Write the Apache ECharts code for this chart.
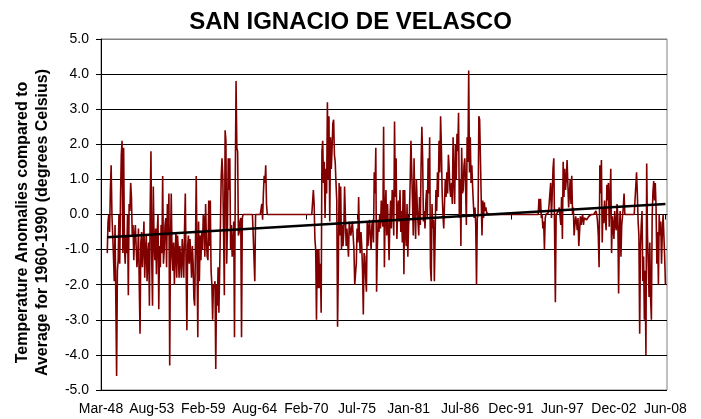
<!DOCTYPE html>
<html>
<head>
<meta charset="utf-8">
<script src="https://cdn.jsdelivr.net/npm/echarts@6/dist/echarts.min.js"></script>
<style>
html,body{margin:0;padding:0;background:#fff;}
#chart{width:701px;height:419px;}
</style>
</head>
<body>
<div id="chart"></div>
<script>
// Monthly temperature anomalies (deg C), first month = Mar-1948
var anom1948_49 = [null,null,null,null,null,null,null,null,-1.1,-0.2,0.0,-0.5,0.7,1.4,0.0,0.0,-1.2,-1.9,-0.3,-2.5,-4.6,-1.6];
var anom1950s = [
  -1.3,0.0,-1.4,0.5,1.7,2.1,-1.1,1.9,-0.9,-1.4,-0.6,-1.1,
  0.0,-2.3,0.3,0.1,0.9,0.5,-0.6,-0.3,-1.3,-0.6,-0.3,-0.9,
  -1.5,-1.2,-0.4,-2.0,-3.4,-0.8,-0.5,-1.5,-0.9,-0.2,-1.8,-1.0,
  -0.6,-1.9,-1.2,-0.8,-2.6,0.2,1.8,-1.3,-2.6,0.8,-0.8,-1.3,
  -0.4,-1.7,-0.5,0.0,-2.7,-0.9,-1.5,-0.3,-1.1,1.1,-1.4,-1.0,
  -0.3,-0.1,-1.5,0.3,-0.6,0.6,-4.3,-0.8,0.6,-1.2,-1.6,-0.8,
  -2.0,-1.1,-0.5,-1.8,-0.6,-1.0,-1.8,-0.9,-1.3,-1.8,-0.7,-1.2,
  -1.8,-0.4,0.6,-1.5,-3.3,-0.9,-0.6,-1.4,-0.7,-1.2,-1.8,-0.9,
  -1.4,-2.4,-2.6,-0.9,1.1,-1.2,-3.5,-0.2,-1.9,-0.6,-1.3,-0.5,
  -1.0,0.0,-0.1,-1.2,0.3,-0.7,-1.2,-1.3,0.4,-0.9,0.4,-1.6
];
var anom1960s = [
  -2.0,-3.0,-2.0,-2.1,-1.9,-4.4,-2.0,-2.6,-1.5,-2.8,-1.6,-1.6,
  1.1,1.6,1.1,-0.5,-2.3,2.4,2.1,-1.4,-0.3,1.6,0.7,1.6,
  -1.0,-0.3,-1.2,-0.9,-0.2,-3.5,1.0,3.8,1.9,1.8,-0.6,-0.5,
  -0.2,-0.1,-3.5,-0.1,0,0,0,0,0,0,0,0,
  0,0,0,0,0,0,0,-1.9,0,0,0,0,
  0,0,0,0,0.3,-0.15,0.6,1.1,0.9,1.4,0.3,0,
  0,0,0,0,0,0,0,0,0,0,0,0,
  0,0,0,0,0,0,0,0,0,0,0,0,
  0,0,0,0,0,0,0,0,0,0,0,0,
  0,0,0,0,0,0,0,0,0,0,0,0
];
var anom1970s = [
  0,0,0,0,0,0,0,0,0,0,0.7,0.3,
  -0.7,-1.0,-3.0,-1.0,-2.1,-1.0,-2.1,-1.4,-2.8,1.8,2.1,0.9,
  1.5,-0.1,1.3,0.6,3.2,1.0,2.8,-0.2,2.2,1.3,1.9,2.6,
  2.7,1.7,1.5,0.9,0.4,-3.2,-1.5,0.9,-0.6,0.8,-1.0,-0.3,
  -0.9,-0.5,0.8,0.0,-0.9,-0.4,-0.4,-1.2,-0.2,-0.4,-0.6,-0.4,
  -0.2,-0.6,-1.0,-2.0,-1.7,-1.4,-0.4,-0.8,0.5,-0.6,-1.1,-0.5,
  -0.9,-1.6,-2.85,-1.1,-1.2,-1.8,-2.2,-0.2,-0.9,-0.35,-0.15,-0.7,
  -1.0,-0.3,-0.15,-0.8,1.2,0.6,1.9,-2.2,-0.9,-0.15,-0.5,0.0,
  -0.4,0.4,-0.1,-0.35,2.5,-1.5,0.1,0.7,-0.6,0.3,-0.4,-1.3,
  -0.2,0.4,-0.4,0.7,0.5,-0.6,2.65,0.5,1.6,-0.7,0.1,0.4
];
var anom1980s = [
  -0.2,0.7,-0.5,0.1,-0.8,0.7,-1.7,0.7,-0.5,-0.9,0.3,-1.2,
  -0.3,0.0,0.9,2.1,2.1,0.4,-0.6,1.6,0.2,-0.7,1.0,0.3,
  -0.2,-0.6,0.5,-0.3,1.4,2.5,1.6,-0.2,0.1,-0.4,0.3,0.7,
  -0.1,1.6,0.6,2.2,-1.5,-1.9,0.3,-0.4,-0.15,-1.9,-0.6,0.7,
  0.1,1.2,0.5,2.1,1.2,2.8,1.9,0.6,0.0,-0.4,0.3,1.0,
  0.5,1.2,0.6,1.7,1.3,0.7,0.5,0.9,0.3,2.2,1.0,0.3,
  2.0,1.0,2.3,1.8,2.9,-0.1,1.0,-0.9,1.9,0.6,0.7,1.4,
  1.6,0.8,-0.3,2.2,1.5,4.1,1.2,2.2,0.9,1.4,0.8,0.3,
  -0.1,0.2,-0.3,-2.0,-0.1,0.0,2.8,2.7,1.6,0.5,-0.6,0.4,
  -0.1,0.35,0.1,0.2,0.05,0,0,0,0,0,0,0
];
var anom1990s = [
  0,0,0,0,0,0,0,0,0,0,0,0,
  0,0,0,0,0,0,0,0,0,0,0,0,
  0,0,0,0,0,0,0,0,0,0,0,0,
  0,0,0,0,0,0,0,0,0,0,0,0,
  0,0,0,0,0,0,0,0,0,0,0,0.45,
  0.1,0.45,-0.1,0.0,-0.4,-0.2,-1.0,-0.1,0,0,0,0.05,
  0.3,0.6,0.9,-0.1,0.6,1.3,1.6,-0.45,-2.5,0.0,0.0,-0.05,
  0.1,0.2,0.2,-0.3,0.5,-0.7,1.5,0.5,1.3,0.7,1.0,1.55,
  1.5,0.2,0.6,1.0,0.3,1.1,0.0,0.2,-0.6,-0.3,-0.05,-0.2,
  -0.45,-0.1,-0.9,-0.5,-0.05,-0.3,-0.1,0.0,-0.3,-0.1,-0.15,-0.05
];
var anom2000s = [
  -0.15,-0.1,-0.1,-0.05,-0.1,-0.05,0,0,0,0,0.05,0,
  0.1,0,-0.2,-0.6,-1.5,1.4,0.6,1.55,-0.8,0.2,-0.25,0.4,
  -0.1,-0.45,0.85,0.4,0.9,-0.35,0.5,1.3,-1.1,-0.05,-0.3,-0.7,
  0.1,-0.3,-0.45,0.3,-0.05,-2.25,-0.45,0.1,-1.2,-0.3,-0.05,0.2,
  0.6,0,0,0,0,0,0,0,0,0,0,0,
  0,0,0,0,1.2,0.6,-0.2,-0.6,-3.4,-0.9,-0.3,0.1,
  -1.9,-1.2,-3.0,-1.6,-4.0,1.45,-0.6,-1.4,-2.35,-0.8,-2.4,-3.0,
  -0.05,0.65,0.95,0.4,0.9,0.2,-1.4,-0.5,-2.0,0.0,-0.6,-0.2,
  -1.4,-0.5,0.0,-0.6,-1.2,-2.0,null,null
];
// Linear trend values at the first and last observed months
var trendValues = [-0.65, 0.30];
// Tick labels shown on the x axis
var tickLabels = ['Mar-48','Aug-53','Feb-59','Aug-64','Feb-70','Jul-75','Jan-81','Jul-86','Dec-91','Jun-97','Dec-02','Jun-08'];
var yTicks = [-5,-4,-3,-2,-1,0,1,2,3,4,5];

var anomalies = [].concat(anom1948_49, anom1950s, anom1960s, anom1970s, anom1980s, anom1990s, anom2000s);
var monthNames = ['Jan','Feb','Mar','Apr','May','Jun','Jul','Aug','Sep','Oct','Nov','Dec'];
var categories = anomalies.map(function (v, i) {
  var m = 2 + i;
  var y = 1948 + Math.floor(m / 12);
  return monthNames[m % 12] + '-' + String(y % 100).padStart(2, '0');
});
var firstIdx = anomalies.findIndex(function (v) { return v !== null; });
var lastIdx = anomalies.length - 1;
while (anomalies[lastIdx] === null) lastIdx--;
var trend = anomalies.map(function (v, i) {
  if (i === firstIdx) return trendValues[0];
  if (i === lastIdx) return trendValues[1];
  return null;
});
var labelSet = {};
tickLabels.forEach(function (l) { labelSet[l] = true; });
function showTick(idx, val) { return !!labelSet[val]; }

var FONT = 'Liberation Sans, Arial, Helvetica, sans-serif';
var splitColors = yTicks.map(function (t, i) { return i === yTicks.length - 1 ? '#808080' : '#000000'; });

var chart = echarts.init(document.getElementById('chart'), null, {renderer: 'canvas'});
chart.setOption({
  animation: false,
  backgroundColor: '#ffffff',
  title: {
    text: 'SAN IGNACIO DE VELASCO',
    left: 'center',
    top: 5,
    textStyle: {fontFamily: FONT, fontSize: 24, fontWeight: 'bold', color: '#000'}
  },
  grid: {
    left: 101, right: 34, top: 39, bottom: 29,
    show: true, borderColor: '#808080', borderWidth: 1, backgroundColor: '#ffffff'
  },
  xAxis: {
    type: 'category',
    data: categories,
    boundaryGap: false,
    axisLine: {show: true, lineStyle: {color: '#000', width: 1}},
    axisTick: {show: true, inside: false, length: 5, interval: showTick, lineStyle: {color: '#000'}},
    axisLabel: {interval: showTick, margin: 12, fontFamily: FONT, fontSize: 14, color: '#000'},
    splitLine: {show: false}
  },
  yAxis: {
    type: 'value',
    min: -5, max: 5, interval: 1,
    name: 'Temperature Anomalies compared to\nAverage for 1960-1990 (degrees Celsius)',
    nameLocation: 'middle',
    nameRotate: 90,
    nameGap: 48,
    nameTextStyle: {fontFamily: FONT, fontSize: 16, fontWeight: 'bold', color: '#000', lineHeight: 20,
      padding: [0, 16, 0, 0]},
    axisLine: {show: true, lineStyle: {color: '#000', width: 1}},
    axisTick: {show: true, inside: false, length: 5, lineStyle: {color: '#000'}},
    axisLabel: {margin: 12, fontFamily: FONT, fontSize: 14, color: '#000',
      formatter: function (v) { return v.toFixed(1); }},
    splitLine: {show: true, lineStyle: {color: splitColors, width: 1}}
  },
  series: [
    {
      type: 'line',
      data: anomalies,
      symbol: 'none',
      connectNulls: false,
      lineStyle: {color: '#800000', width: 1.6},
      itemStyle: {color: '#800000'},
      z: 2
    },
    {
      type: 'line',
      data: trend,
      symbol: 'none',
      connectNulls: true,
      lineStyle: {color: '#000000', width: 2.5},
      itemStyle: {color: '#000000'},
      z: 3
    }
  ]
});
</script>
</body>
</html>
